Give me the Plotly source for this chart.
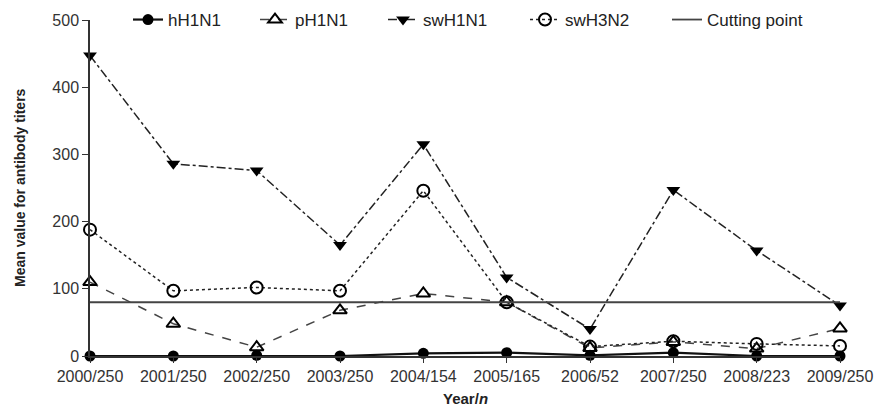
import plotly.graph_objects as go

years = ["2000/250", "2001/250", "2002/250", "2003/250", "2004/154",
         "2005/165", "2006/52", "2007/250", "2008/223", "2009/250"]
hH1N1 = [0, 0, 1, 0, 4, 5, 1, 5, 0, 0]
pH1N1 = [110, 48, 13, 68, 93, 80, 12, 21, 11, 41]
swH1N1 = [447, 286, 276, 165, 315, 117, 40, 247, 157, 75]
swH3N2 = [188, 97, 102, 97, 246, 80, 14, 22, 18, 15]
cutting = [80] * len(years)

OFF = 8  # page body margin
W, H = 885 - OFF, 411 - OFF
ML, MT = 90 - OFF, 20 - OFF
MR = W - (840 - OFF)
MB = H - (356 - OFF)
PW, PH = W - ML - MR, H - MT - MB
legend_text_px = [170, 297, 425, 567, 709]

fig = go.Figure()
fig.add_trace(go.Scatter(x=years, y=hH1N1, name="hH1N1", mode="lines+markers",
                         line=dict(color="#111", width=2.2),
                         marker=dict(symbol="circle", size=11, color="#000"),
                         cliponaxis=False, legend="legend"))
fig.add_trace(go.Scatter(x=years, y=pH1N1, name="pH1N1", mode="lines+markers",
                         line=dict(color="#444", width=1.5, dash="dash"),
                         marker=dict(symbol="triangle-up-open", size=12, color="#000",
                                     line=dict(width=2)),
                         cliponaxis=False, legend="legend2"))
fig.add_trace(go.Scatter(x=years, y=swH1N1, name="swH1N1", mode="lines+markers",
                         line=dict(color="#222", width=1.5, dash="dashdot"),
                         marker=dict(symbol="triangle-down", size=12, color="#000"),
                         cliponaxis=False, legend="legend3"))
fig.add_trace(go.Scatter(x=years, y=swH3N2, name="swH3N2", mode="lines+markers",
                         line=dict(color="#222", width=1.5, dash="dot"),
                         marker=dict(symbol="circle-open", size=12, color="#000",
                                     line=dict(width=2)),
                         cliponaxis=False, legend="legend4"))
fig.add_trace(go.Scatter(x=years, y=cutting, name="Cutting point", mode="lines",
                         line=dict(color="#444", width=1.8),
                         cliponaxis=False, legend="legend5"))

def leg(px):
    return dict(orientation="h", xref="paper", yref="paper",
                x=(px - OFF - 42 - ML) / PW, y=1.0, xanchor="left", yanchor="middle",
                font=dict(size=17, color="#222"), itemwidth=30,
                bgcolor="rgba(0,0,0,0)", tracegroupgap=0)

fig.update_layout(
    width=W, height=H,
    margin=dict(l=ML, r=MR, t=MT, b=MB, autoexpand=False),
    plot_bgcolor="white", paper_bgcolor="white",
    font=dict(family="Liberation Sans, Arial, sans-serif", size=16, color="#333"),
    showlegend=True,
    legend=leg(legend_text_px[0]),
    legend2=leg(legend_text_px[1]),
    legend3=leg(legend_text_px[2]),
    legend4=leg(legend_text_px[3]),
    legend5=leg(legend_text_px[4]),
    xaxis=dict(type="category", range=[0, 9], showline=True, linecolor="#333",
               linewidth=1.5, ticks="outside", ticklen=5, tickcolor="#333",
               showgrid=False, zeroline=False, automargin=False,
               tickfont=dict(size=16, color="#333")),
    yaxis=dict(range=[0, 500], showline=True, linecolor="#333", linewidth=1.5,
               ticks="outside", ticklen=6, tickcolor="#333",
               tickvals=[0, 100, 200, 300, 400, 500],
               showgrid=False, zeroline=False, automargin=False,
               tickfont=dict(size=16, color="#333")),
    annotations=[
        dict(text="<b>Year/<i>n</i></b>", xref="paper", yref="paper",
             x=0.5, y=(H - MB - (398 - OFF)) / PH, xanchor="center", yanchor="middle",
             showarrow=False, font=dict(size=15, color="#222")),
        dict(text="<b>Mean value for antibody titers</b>", xref="paper",
             yref="paper", x=(20 - OFF - ML) / PW, y=0.5, xanchor="center",
             yanchor="middle", textangle=-90, showarrow=False,
             font=dict(size=14, color="#222")),
    ],
)

fig.write_html("out.html")
